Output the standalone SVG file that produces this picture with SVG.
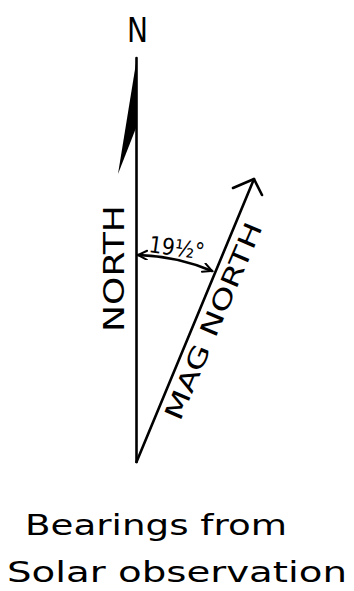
<svg xmlns="http://www.w3.org/2000/svg" width="354" height="591" viewBox="0 0 354 591">
<style>
.ln{stroke:#000;stroke-width:2.6;fill:none;stroke-linecap:round;stroke-linejoin:round}
.t{font-family:"DejaVu Sans","Liberation Sans",sans-serif;fill:#000}
</style>
<defs>
<marker id="ah" markerWidth="14" markerHeight="14" refX="10" refY="5" orient="auto-start-reverse" markerUnits="userSpaceOnUse">
<path d="M1,0.5 L10,5 L1,9.5" fill="none" stroke="#000" stroke-width="2" stroke-linecap="round"/>
</marker>
</defs>
<rect width="354" height="591" fill="#fff"/>
<g id="connectors">
<line class="ln" x1="136.5" y1="58" x2="136.5" y2="462"/>
<polygon points="137,57 118,174 136,128" fill="#000"/>
<line class="ln" x1="136.5" y1="462" x2="254" y2="179"/>
<polyline class="ln" points="233,188 254,179 262,195"/>
<path class="ln" d="M138,255 A207,207 0 0 1 212,271" stroke-width="2" marker-start="url(#ah)" marker-end="url(#ah)"/>
</g>
<g id="label-n"><text class="t" x="127" y="42" font-size="34" textLength="21" lengthAdjust="spacingAndGlyphs">N</text></g>
<g id="label-north"><text class="t" font-size="28" transform="translate(124,332) rotate(-90)" textLength="127" lengthAdjust="spacingAndGlyphs">NORTH</text></g>
<g id="label-mag"><text class="t" font-size="25" transform="translate(180,422) rotate(-67)" textLength="212" lengthAdjust="spacingAndGlyphs">MAG NORTH</text></g>
<g id="label-angle"><text class="t" font-size="23" transform="translate(148,252) rotate(8)" textLength="56" lengthAdjust="spacingAndGlyphs">19½°</text></g>
<g id="caption">
<text class="t" x="25" y="535" font-size="28" textLength="262" lengthAdjust="spacingAndGlyphs">Bearings from</text>
<text class="t" x="7" y="582" font-size="28" textLength="340" lengthAdjust="spacingAndGlyphs">Solar observation</text>
</g>
</svg>
